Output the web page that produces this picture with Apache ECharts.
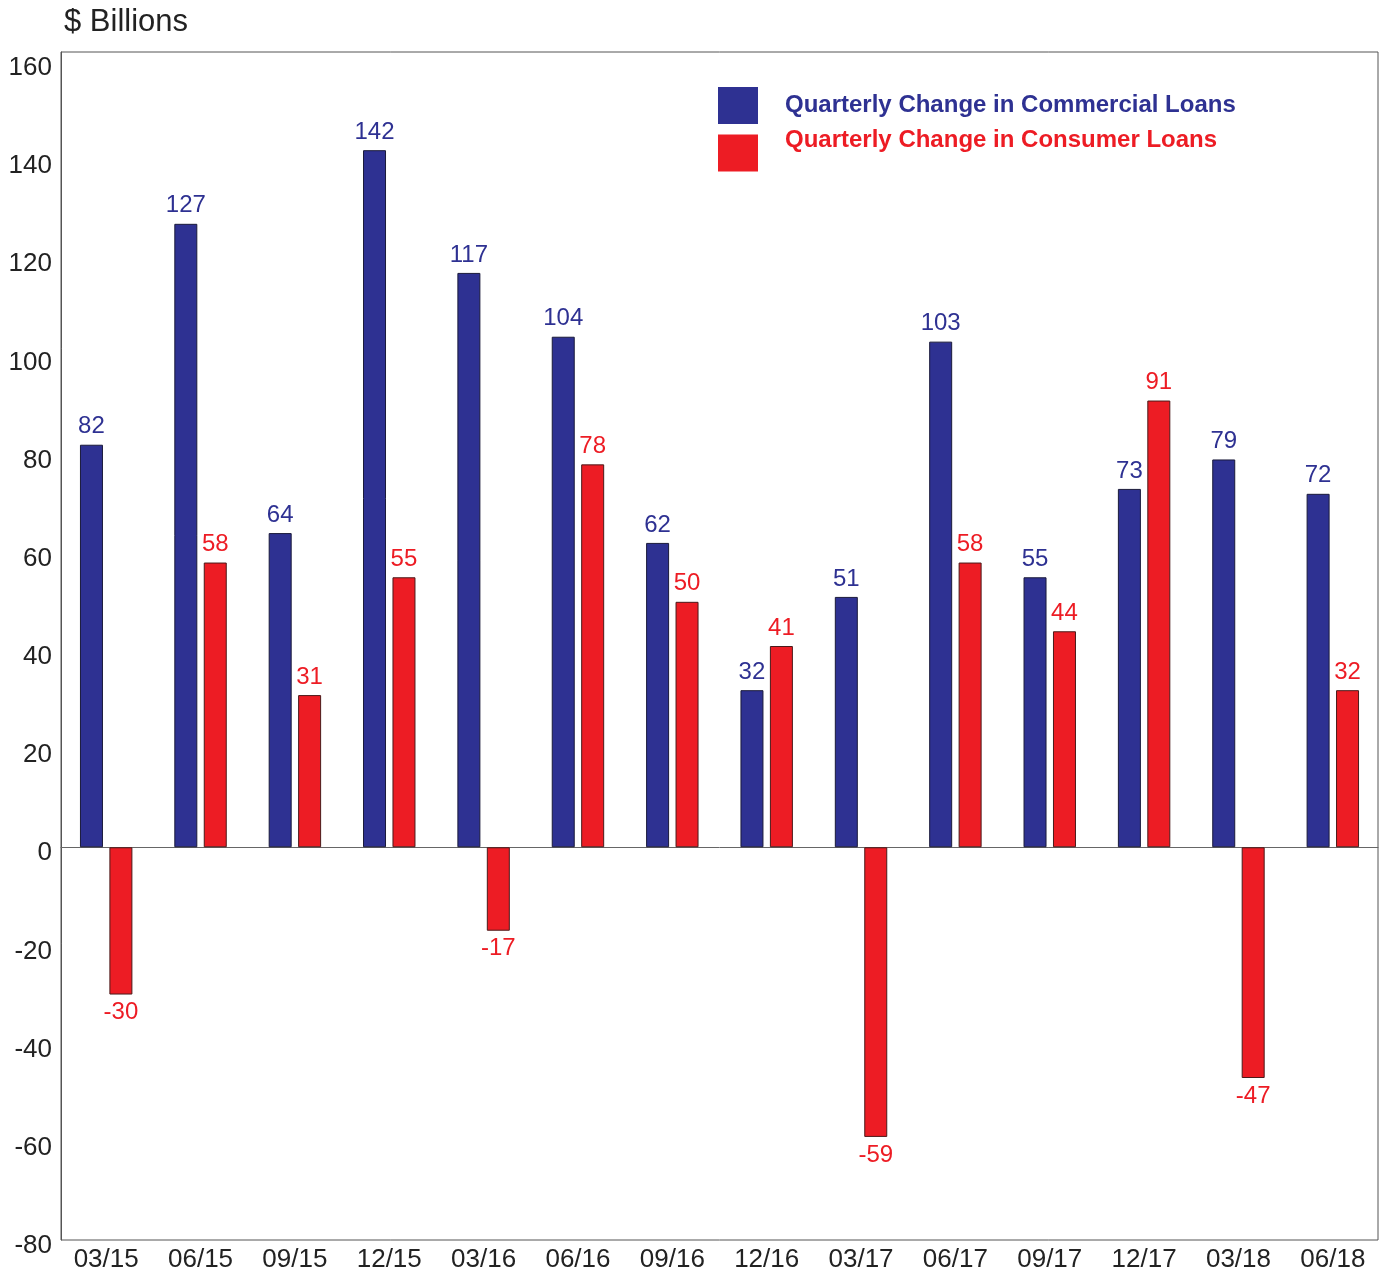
<!DOCTYPE html>
<html>
<head>
<meta charset="utf-8">
<title>Quarterly Change in Loans</title>
<script src="https://cdn.jsdelivr.net/npm/echarts@6/dist/echarts.min.js"></script>
<style>
  html, body { margin: 0; padding: 0; background: #fff; }
  #chart { width: 1382px; height: 1270px; }
</style>
</head>
<body>
<div id="chart"></div>
<script>
// Quarter-end labels
const quarters = ['03/15', '06/15', '09/15', '12/15', '03/16', '06/16', '09/16',
                  '12/16', '03/17', '06/17', '09/17', '12/17', '03/18', '06/18'];

// Quarterly change, $ billions
const commercialLoans = [82, 127, 64, 142, 117, 104, 62, 32, 51, 103, 55, 73, 79, 72];
const consumerLoans   = [-30, 58, 31, 55, -17, 78, 50, 41, -59, 58, 44, 91, -47, 32];

const seriesNames = ['Quarterly Change in Commercial Loans', 'Quarterly Change in Consumer Loans'];

const Y_MIN = -80;
const Y_MAX = 162;
const Y_STEP = 20;

const BLUE = '#2e3192';
const RED = '#ed1c24';
const FONT = '"Liberation Sans", Arial, Helvetica, sans-serif';

// Labels sit above positive bars and below negative ones
function toItems(values) {
  return values.map(v => (v < 0 ? { value: v, label: { position: 'bottom' } } : { value: v }));
}

function barSeries(name, values, color, border) {
  return {
    name: name,
    type: 'bar',
    xAxisIndex: 1,
    yAxisIndex: 1,
    data: toItems(values),
    barWidth: 23,
    barGap: '28%',
    itemStyle: { color: color, borderColor: border, borderWidth: 1 },
    label: {
      show: true,
      position: 'top',
      distance: 6,
      color: color,
      fontSize: 24,
      fontFamily: FONT
    },
    emphasis: { disabled: true }
  };
}

// One legend per series; shiftUp raises the text relative to its swatch
function legendFor(name, color, top, shiftUp) {
  return {
    data: [name],
    left: 718,
    top: top,
    padding: 0,
    icon: 'rect',
    itemWidth: 40,
    itemHeight: 37,
    itemStyle: { borderWidth: 0 },
    selectedMode: false,
    formatter: n => '{t|' + n + '}',
    textStyle: {
      color: color,
      fontWeight: 'bold',
      fontSize: 24,
      fontFamily: FONT,
      rich: {
        t: {
          color: color,
          fontWeight: 'bold',
          fontSize: 24,
          fontFamily: FONT,
          padding: [0, 0, shiftUp * 2, 22]
        }
      }
    }
  };
}

const chart = echarts.init(document.getElementById('chart'), null, { renderer: 'canvas' });

chart.setOption({
  animation: false,
  backgroundColor: '#fff',
  textStyle: { fontFamily: FONT },
  title: {
    text: '$ Billions',
    left: 64,
    top: 7,
    padding: 0,
    textStyle: { fontSize: 31, fontWeight: 'normal', color: '#222', fontFamily: FONT }
  },
  legend: [
    legendFor(seriesNames[0], BLUE, 87, 0.5),
    legendFor(seriesNames[1], RED, 128, 13)
  ],
  grid: [
    // frame, value labels and zero line
    {
      left: 61, right: 4, top: 52, bottom: 30,
      show: true, borderColor: '#555', borderWidth: 1,
      containLabel: false, outerBoundsMode: 'none'
    },
    // bars and quarter labels
    {
      left: 59, right: 2, top: 52, bottom: 30,
      show: false, containLabel: false, outerBoundsMode: 'none'
    }
  ],
  xAxis: [
    {
      gridIndex: 0,
      type: 'category',
      data: quarters,
      axisLine: { onZero: true, lineStyle: { color: '#666', width: 1 } },
      axisTick: { show: false },
      axisLabel: { show: false },
      splitLine: { show: false }
    },
    {
      gridIndex: 1,
      type: 'category',
      data: quarters,
      axisLine: { show: false, onZero: false },
      axisTick: { show: false },
      splitLine: { show: false },
      axisLabel: { color: '#222', fontSize: 26, margin: 7, fontFamily: FONT }
    }
  ],
  yAxis: [
    {
      gridIndex: 0,
      type: 'value',
      min: Y_MIN,
      max: Y_MAX,
      interval: Y_STEP,
      axisLine: { show: true, lineStyle: { color: '#555', width: 1 } },
      axisTick: { show: false },
      splitLine: { show: false },
      axisLabel: {
        color: '#222',
        fontSize: 26,
        margin: 9,
        fontFamily: FONT,
        formatter: v => (v % Y_STEP === 0 ? '{n|' + v + '}' : ''),
        rich: {
          n: { color: '#222', fontSize: 26, fontFamily: FONT, padding: [12, 0, 0, 0] }
        }
      }
    },
    {
      gridIndex: 1,
      type: 'value',
      min: Y_MIN,
      max: Y_MAX,
      interval: Y_STEP,
      show: false
    }
  ],
  series: [
    barSeries(seriesNames[0], commercialLoans, BLUE, '#1a1a3a'),
    barSeries(seriesNames[1], consumerLoans, RED, '#4a1a1a')
  ]
});
</script>
</body>
</html>
